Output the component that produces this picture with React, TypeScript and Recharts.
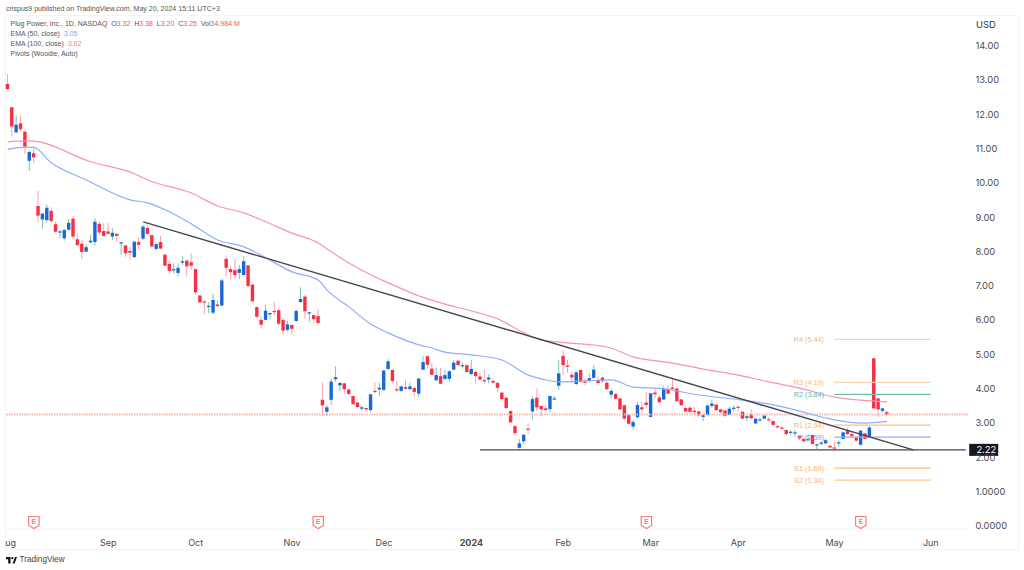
import React from "react";
import { ComposedChart, Bar, Line, XAxis, YAxis, ReferenceLine, ReferenceDot } from "recharts";

const opens = [12.89,12.21,11.48,11.74,11.50,10.65,10.87,9.33,8.94,8.92,
9.19,8.80,8.56,8.39,8.64,8.96,8.36,8.23,8.00,8.27,
8.28,8.81,8.60,8.59,8.44,8.52,8.25,8.18,8.02,7.84,
8.28,8.38,8.69,8.48,8.08,8.28,7.91,7.64,7.47,7.38,
7.68,7.74,7.69,7.49,6.72,6.55,6.40,6.22,6.46,6.43,
7.79,7.49,7.46,7.38,7.32,7.60,7.04,6.38,6.01,6.01,
6.17,6.27,6.29,6.01,5.72,5.86,5.98,6.53,6.69,6.21,
6.15,6.12,3.68,3.33,3.68,4.28,4.10,4.16,3.98,3.79,
3.60,3.42,3.44,3.38,3.94,3.98,3.97,4.58,4.55,3.99,
3.94,4.05,3.99,4.02,3.86,4.56,4.95,4.59,4.25,4.37,
4.29,4.29,4.56,4.82,4.67,4.69,4.43,4.49,4.36,4.25,
4.27,4.23,4.17,3.89,3.74,3.35,2.91,2.28,2.47,2.84,
3.34,3.74,3.50,3.43,3.41,3.70,4.09,4.96,4.68,4.41,
4.14,4.55,4.21,4.23,4.32,4.26,4.33,4.18,3.83,3.85,
3.72,3.52,3.24,2.90,3.17,3.46,3.60,3.18,3.89,3.75,
3.69,4.00,4.04,4.01,3.69,3.44,3.45,3.36,3.34,3.18,
3.24,3.50,3.54,3.40,3.37,3.24,3.43,3.48,3.33,3.15,
3.26,2.99,3.08,3.13,3.11,3.06,2.91,2.87,2.80,2.73,
2.71,2.63,2.54,2.50,2.65,2.35,2.41,2.41,2.34,2.29,
2.41,2.54,2.78,2.68,2.57,2.37,2.70,2.60,4.89,3.72,
3.36,3.32];

const closes = [12.74,11.65,11.70,11.57,11.06,10.91,10.75,9.05,9.11,9.28,
8.89,8.58,8.59,8.63,8.84,8.44,8.19,7.99,8.13,8.32,
8.87,8.56,8.46,8.52,8.55,8.46,8.27,7.95,7.97,8.29,
8.20,8.73,8.52,8.15,8.22,8.09,7.59,7.44,7.49,7.53,
7.72,7.57,7.59,6.81,6.52,6.53,6.42,6.59,6.41,7.16,
7.53,7.40,7.32,7.49,7.72,7.00,6.55,6.10,5.87,6.28,
6.21,6.25,5.90,5.70,5.88,5.75,6.27,6.62,6.26,6.23,
6.03,5.92,3.52,3.46,4.21,4.34,4.17,3.99,3.85,3.55,
3.47,3.46,3.40,3.84,3.91,4.03,4.53,4.80,4.23,3.96,
4.07,4.00,4.07,3.91,4.30,4.78,4.70,4.41,4.40,4.15,
4.40,4.51,4.76,4.69,4.69,4.49,4.58,4.37,4.27,4.23,
4.33,4.18,4.03,3.70,3.44,3.02,2.71,2.41,2.66,2.82,
3.70,3.46,3.40,3.38,3.79,3.72,4.45,4.69,4.64,4.33,
4.48,4.21,4.18,4.31,4.56,4.17,4.22,3.99,3.94,3.71,
3.40,3.13,2.98,3.03,3.53,3.40,3.53,3.87,3.84,3.61,
4.00,3.86,4.00,3.64,3.52,3.34,3.33,3.32,3.23,3.23,
3.51,3.57,3.38,3.32,3.21,3.42,3.45,3.45,3.13,3.20,
3.14,3.13,3.11,3.22,3.09,2.95,2.89,2.85,2.68,2.75,
2.73,2.55,2.47,2.54,2.39,2.38,2.43,2.50,2.29,2.28,
2.44,2.73,2.68,2.62,2.49,2.78,2.54,2.87,3.43,3.40,
3.43,3.25];

const highs = [13.18,12.21,11.97,11.97,11.50,10.92,11.01,9.77,9.12,9.38,
9.29,8.87,8.63,8.66,8.95,9.04,8.53,8.34,8.22,8.49,
8.97,8.87,8.83,8.83,8.68,8.53,8.28,8.19,8.15,8.31,
8.42,8.78,8.78,8.49,8.27,8.46,7.93,7.76,7.66,7.66,
7.87,7.76,7.95,7.51,6.74,6.57,6.52,6.77,6.59,7.20,
7.87,7.59,7.78,7.61,7.87,7.61,7.05,6.40,6.13,6.46,
6.22,6.53,6.35,6.06,5.98,5.87,6.32,6.96,6.74,6.24,
6.16,6.33,4.18,3.53,4.30,4.66,4.21,4.18,4.01,3.80,
3.62,3.50,3.45,3.85,4.19,4.18,4.55,4.86,4.56,4.23,
4.09,4.25,4.18,4.06,4.32,4.95,4.98,4.76,4.62,4.61,
4.55,4.55,4.84,4.84,4.76,4.72,4.84,4.53,4.47,4.56,
4.42,4.30,4.21,3.91,3.77,3.36,2.94,2.53,2.68,2.99,
3.77,4.01,3.51,3.51,3.80,3.79,4.84,5.13,4.84,4.50,
4.53,4.56,4.30,4.45,4.69,4.37,4.35,4.21,4.01,3.87,
3.74,3.54,3.26,3.09,3.62,3.62,3.91,3.88,4.01,3.82,
4.08,4.11,4.32,4.03,3.70,3.51,3.48,3.48,3.36,3.26,
3.55,3.69,3.57,3.42,3.39,3.48,3.52,3.50,3.35,3.22,
3.40,3.14,3.17,3.26,3.17,3.08,2.94,2.91,2.81,2.80,
2.80,2.65,2.56,2.68,2.67,2.40,2.47,2.55,2.36,2.47,
2.50,2.75,2.87,2.72,2.62,2.80,2.72,2.92,4.89,3.74,
3.45,3.38];

const lows = [12.72,11.35,11.45,11.50,10.85,10.35,10.58,8.85,8.67,8.85,
8.87,8.55,8.39,8.32,8.60,8.36,8.17,7.79,7.98,8.24,
8.18,8.49,8.44,8.49,8.34,8.27,7.90,7.85,7.76,7.81,
8.07,8.34,8.49,8.12,8.03,8.07,7.58,7.34,7.37,7.27,
7.61,7.27,7.47,6.74,6.49,6.17,6.20,6.18,6.40,6.40,
7.27,7.20,7.25,7.20,7.30,6.92,6.54,6.07,5.78,5.99,
6.03,6.15,5.86,5.57,5.67,5.59,5.95,6.51,6.04,5.95,
5.93,5.88,3.21,3.21,3.53,4.21,3.94,3.85,3.82,3.54,
3.45,3.36,3.33,3.32,3.86,3.79,3.94,4.53,4.18,3.91,
3.91,3.98,3.97,3.77,3.77,4.55,4.59,4.40,4.23,4.14,
4.25,4.21,4.55,4.66,4.59,4.47,4.40,4.16,4.25,4.14,
4.16,4.16,3.89,3.65,3.41,3.01,2.65,2.26,2.39,2.68,
3.11,3.35,3.20,3.36,3.32,3.67,3.96,4.40,4.47,4.16,
4.11,4.18,4.11,4.18,4.30,4.11,4.18,3.96,3.72,3.69,
3.38,3.11,2.96,2.81,3.14,3.30,3.44,3.17,3.72,3.59,
3.67,3.85,3.98,3.60,3.50,3.32,3.31,3.26,3.17,3.06,
3.20,3.45,3.35,3.28,3.18,3.22,3.35,3.33,3.11,3.06,
3.12,2.97,3.04,3.11,3.05,2.87,2.85,2.81,2.65,2.64,
2.60,2.52,2.45,2.47,2.38,2.23,2.36,2.38,2.27,2.26,
2.31,2.52,2.65,2.58,2.46,2.35,2.52,2.58,3.41,3.18,
3.30,3.20];

const ema50Days = [0,4,6,10,18,28,32,36,42,48,54,59,65,71,73,78,83,87,94,97,100,106,113,119,122,126,132,138,143,150,158,168,175,181,187,192,196,201];
const ema50Values = [10.98,11.05,11.04,10.59,10.09,9.51,9.42,9.22,8.81,8.34,8.14,7.82,7.41,7.17,6.88,6.39,5.89,5.63,5.28,5.19,5.07,4.99,4.84,4.40,4.29,4.20,4.23,4.26,4.05,4.00,3.82,3.67,3.53,3.35,3.15,3.03,3.00,3.05];
const ema100Days = [0,4,6,19,29,32,42,48,54,59,65,71,73,78,84,87,94,100,106,112,118,122,128,137,143,152,160,167,174,181,189,195,201];
const ema100Values = [11.20,11.23,11.22,10.62,10.27,10.09,9.71,9.33,9.13,8.87,8.54,8.25,8.08,7.67,7.26,7.09,6.71,6.47,6.27,6.04,5.63,5.42,5.34,5.22,4.93,4.75,4.55,4.40,4.20,4.02,3.76,3.67,3.62];

const monthDays = [0,23,43,65,86,106,127,147,167,189,211];
const monthLabels = ["Aug","Sep","Oct","Nov","Dec","2024","Feb","Mar","Apr","May","Jun"];
const priceTicks = [0,1,2,3,4,5,6,7,8,9,10,11,12,13,14];
const priceLabels = ["0.0000","1.0000","2.00","3.00","4.00","5.00","6.00","7.00","8.00","9.00","10.00","11.00","12.00","13.00","14.00"];
const earningsDays = [6,71,146,195];
const pivotNames = ["R4","R3","R2","R1","P","S1","S2"];
const pivotValues = [5.44,4.19,3.84,2.94,2.59,1.69,1.34];
const pivotStart = 189;
const pivotEnd = 211;
const trendFrom = { day: 31, price: 8.87 };
const trendTo = { day: 207, price: 2.22 };
const supportStart = 108;
const supportLevel = 2.22;
const lastClose = 3.25;
const DAY_SLOTS = 220;

const pivotColors: Record<string, string> = { R4: "#fdd3a8", R3: "#fdd3ae", R2: "#6cc4a6", R1: "#fdc27e", P: "#8fb0fb", S1: "#fdbe72", S2: "#fdcb90" };
const pivotTextColors: Record<string, string> = { R4: "#fbb67c", R3: "#fbb67c", R2: "#5dbb9d", R1: "#fbb067", P: "#7ea0fa", S1: "#fbb067", S2: "#fbb67c" };

const rows = Array.from({ length: DAY_SLOTS }, (_, i) => {
  const a = ema50Days.indexOf(i);
  const b = ema100Days.indexOf(i);
  return {
    day: i,
    open: opens[i],
    close: closes[i],
    range: i < opens.length ? [lows[i], highs[i]] : null,
    ema50: a >= 0 ? ema50Values[a] : null,
    ema100: b >= 0 ? ema100Values[b] : null,
  };
});

const UI_FONT = "Inter, 'Liberation Sans', sans-serif";
const SMALL_FONT = "'Liberation Sans', Arial, sans-serif";

function Candle(props: any) {
  const { x, y, width, height, payload } = props;
  if (!payload || !payload.range || !height) return null;
  const [lo, hi] = payload.range;
  const toY = (v: number) => y + ((hi - v) / (hi - lo)) * height;
  const cx = x + width / 2;
  const up = payload.close >= payload.open;
  const top = toY(Math.max(payload.open, payload.close));
  const bot = toY(Math.min(payload.open, payload.close));
  const body = up ? "#1769d6" : "#f72e45";
  const wick = up ? "#7cc4b2" : "#f9a3ad";
  return (
    <g>
      <line x1={cx} x2={cx} y1={y} y2={y + height} stroke={wick} strokeWidth={1} />
      <rect x={cx - 1.7} y={top} width={3.4} height={Math.max(bot - top, 1.2)} fill={body} />
    </g>
  );
}

function MonthTick({ x, y, payload }: any) {
  const label = monthLabels[monthDays.indexOf(payload.value)];
  const bold = label === "2024";
  const text = (tx: number) => (
    <text x={tx} y={y} dy={9} textAnchor="middle" fontFamily={UI_FONT} fontSize={9} fontWeight={bold ? 700 : 400} fill="#4c4c4c">
      {label}
    </text>
  );
  if (payload.value === 0) {
    return (
      <svg x={5} y={y - 5} width={30} height={25} overflow="hidden">
        <g transform={`translate(${-5} ${5 - y})`}>{text(x)}</g>
      </svg>
    );
  }
  return text(x);
}

function PriceTick({ x, y, payload }: any) {
  return (
    <text x={x - 0.6} y={y} dy={3.2} textAnchor="start" fontFamily={UI_FONT} fontSize={9.4} fill="#4c4c4c">
      {priceLabels[priceTicks.indexOf(payload.value)]}
    </text>
  );
}

function EarningsFlag({ cx, cy }: any) {
  return (
    <g>
      <path
        d={`M${cx - 5.2} ${cy - 5.5} H${cx + 5.2} V${cy + 3.5} L${cx} ${cy + 6.5} L${cx - 5.2} ${cy + 3.5} Z`}
        fill="#fff"
        stroke="#f77c80"
        strokeWidth={1.2}
      />
      <text x={cx} y={cy + 2.4} textAnchor="middle" fontFamily={SMALL_FONT} fontSize={6.5} fontWeight={700} fill="#f77c80">
        E
      </text>
    </g>
  );
}

function PivotLabel({ cx, cy, name, value }: any) {
  return (
    <text x={cx - 10.5} y={cy + 2.6} textAnchor="end" fontFamily={SMALL_FONT} fontSize={7.3} fill={pivotTextColors[name]}>
      {`${name} (${value.toFixed(2)})`}
    </text>
  );
}

function LastBadge({ cx, cy }: any) {
  return (
    <g>
      <rect x={cx + 3.4} y={cy - 6} width={29} height={12} fill="#131722" />
      <text x={cx + 10.6} y={cy + 3.3} fontFamily={UI_FONT} fontSize={9.4} fill="#fff">
        {supportLevel.toFixed(2)}
      </text>
    </g>
  );
}

const line = (top: number, extra: React.CSSProperties = {}): React.CSSProperties => ({
  position: "absolute",
  left: 10.5,
  top,
  fontFamily: SMALL_FONT,
  fontSize: 7,
  lineHeight: "10px",
  color: "#555",
  whiteSpace: "pre",
  ...extra,
});
const red = { color: "#f7525f" };

export default function App() {
  return (
    <div style={{ position: "absolute", left: 0, top: 0, width: 1024, height: 570, background: "#fff", overflow: "hidden", fontFamily: UI_FONT }}>
      <div style={{ position: "absolute", left: 5, top: 15, width: 1014, height: 535, border: "1px solid #f4f4f4", boxSizing: "border-box" }} />
      <ComposedChart
        width={1024}
        height={570}
        data={rows}
        margin={{ top: 15, right: 0, bottom: 21, left: 5.4 }}
        style={{ position: "absolute", left: 0, top: 0 }}
      >
        <XAxis
          dataKey="day"
          type="category"
          ticks={monthDays}
          interval={0}
          height={20}
          tickLine={false}
          axisLine={{ stroke: "#f2f2f2" }}
          tick={<MonthTick />}
        />
        <YAxis
          orientation="right"
          width={56}
          type="number"
          domain={[-0.0875, 14.9]}
          allowDataOverflow
          ticks={priceTicks}
          interval={0}
          tickLine={false}
          axisLine={false}
          tick={<PriceTick />}
        />
        <ReferenceLine y={lastClose} stroke="#fbb9b2" strokeOpacity={1} strokeWidth={2} strokeDasharray="1.5 1" ifOverflow="visible" />
        {pivotNames.map((name, i) => (
          <ReferenceLine
            key={name}
            segment={[{ x: pivotStart, y: pivotValues[i] }, { x: pivotEnd, y: pivotValues[i] }]}
            stroke={pivotColors[name]}
            strokeWidth={1.2}
          />
        ))}
        {pivotNames.map((name, i) => (
          <ReferenceDot
            key={name}
            x={pivotStart}
            y={pivotValues[i]}
            r={0}
            shape={(p: any) => <PivotLabel {...p} name={name} value={pivotValues[i]} />}
          />
        ))}
        <Line type="monotone" dataKey="ema50" stroke="#8dadfb" strokeWidth={1.2} dot={false} connectNulls isAnimationActive={false} />
        <Line type="monotone" dataKey="ema100" stroke="#f893b1" strokeWidth={1.2} dot={false} connectNulls isAnimationActive={false} />
        <Bar dataKey="range" barSize={4} shape={<Candle />} isAnimationActive={false} />
        <ReferenceLine
          segment={[{ x: trendFrom.day, y: trendFrom.price }, { x: trendTo.day, y: trendTo.price }]}
          stroke="#43454e"
          strokeWidth={1.4}
        />
        <ReferenceLine
          segment={[{ x: supportStart, y: supportLevel }, { x: DAY_SLOTS - 1, y: supportLevel }]}
          stroke="#43454e"
          strokeWidth={1.4}
        />
        <ReferenceDot x={DAY_SLOTS - 1} y={supportLevel} r={0} ifOverflow="visible" shape={<LastBadge />} />
        {earningsDays.map((d) => (
          <ReferenceDot key={d} x={d} y={0.117} r={0} ifOverflow="visible" shape={<EarningsFlag />} />
        ))}
      </ComposedChart>

      <div style={line(4, { left: 6, fontSize: 7.05 })}>
        crispus9 published on TradingView.com, May 20, 2024 15:11 UTC+3
      </div>
      <div style={line(19)}>
        {"Plug Power, Inc., 1D, NASDAQ  O"}<span style={red}>3.32</span>{"  H"}<span style={red}>3.38</span>{"  L"}<span style={red}>3.20</span>{"  C"}<span style={red}>3.25</span>{"  Vol"}<span style={red}>34.984 M</span>
      </div>
      <div style={line(29)}>
        {"EMA (50, close)  "}<span style={{ color: "#7d9ffb" }}>3.05</span>
      </div>
      <div style={line(39)}>
        {"EMA (100, close)  "}<span style={{ color: "#f77c9d" }}>3.62</span>
      </div>
      <div style={line(48.5)}>Pivots (Woodie, Auto)</div>
      <div style={{ position: "absolute", left: 976, top: 19, fontSize: 9.4, lineHeight: "12px", color: "#333" }}>USD</div>

      <svg style={{ position: "absolute", left: 6, top: 557 }} width={11} height={7} viewBox="0 0 11 7">
        <path d="M0 0H4.5V6.5H2.2V2.2H0Z M6.6 6.5L9 0H11L8.6 6.5Z" fill="#111" />
        <circle cx="6.3" cy="1.2" r="1.1" fill="#111" />
      </svg>
      <div style={{ position: "absolute", left: 19.5, top: 555, fontFamily: SMALL_FONT, fontSize: 8.2, lineHeight: "10px", color: "#444" }}>TradingView</div>
    </div>
  );
}
